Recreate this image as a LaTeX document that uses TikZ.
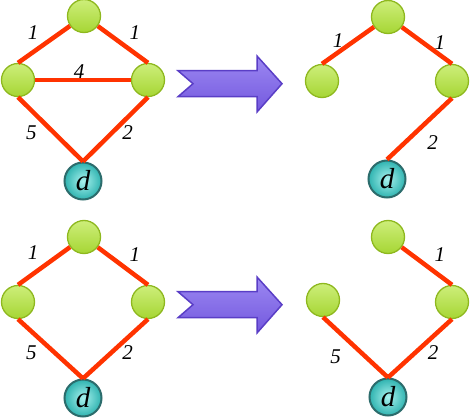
\documentclass[tikz,border=0pt]{standalone}
\usepackage{fontspec}
\setmainfont{Liberation Serif}
\usepackage{tikz}
\usetikzlibrary{shapes.geometric,arrows.meta,positioning,calc}
\definecolor{gtop}{HTML}{CDEE7A}
\definecolor{gbot}{HTML}{A6D634}
\definecolor{grim}{HTML}{8EB81E}
\definecolor{dinner}{HTML}{A8F2EE}
\definecolor{douter}{HTML}{2FB3B0}
\definecolor{drim}{HTML}{2C6C6C}
\definecolor{edgered}{HTML}{FF3300}
\definecolor{atop}{HTML}{9C88F2}
\definecolor{abot}{HTML}{7358DE}
\definecolor{arim}{HTML}{5A3EC6}

\begin{document}
\begin{tikzpicture}[
		x=1pt, y=-1pt,
		router/.style={circle, draw=grim, line width=1.3pt, minimum size=33pt, inner sep=0pt, top color=gtop, bottom color=gbot},
		dest/.style={circle, draw=drim, line width=2pt, minimum size=37pt, inner sep=0pt, inner color=dinner, outer color=douter, font=\fontsize{29}{29}\selectfont\itshape},
		link/.style={draw=edgered, line width=4.5pt},
		lbl/.style={font=\fontsize{21}{21}\selectfont\itshape, inner sep=0pt},
		bigarrow/.style={draw=arim, line width=1.5pt, top color=atop, bottom color=abot, line join=miter}
	]
		\useasboundingbox (0,0) rectangle (472,420);

		% full graph, top left
		\node[router] (ta) at (84,16) {};
		\node[router] (la) at (18,80) {};
		\node[router] (ra) at (148,80) {};
		\node[dest] (da) at (83,181) {d};

		% tree, top right
		\node[router] (tb) at (388,17) {};
		\node[router] (lb) at (322,81) {};
		\node[router] (rb) at (452,81) {};
		\node[dest] (db) at (387,179) {d};

		% graph without the 4 link, bottom left
		\node[router] (tc) at (84,237) {};
		\node[router] (lc) at (18,302) {};
		\node[router] (rc) at (148,302) {};
		\node[dest] (dc) at (83,398) {d};

		% tree, bottom right
		\node[router] (td) at (388,237) {};
		\node[router] (ld) at (323,300) {};
		\node[router] (rd) at (452,302) {};
		\node[dest] (dd) at (388,397) {d};

		\draw[link] (ta) -- node[lbl, xshift=-11pt, yshift=12pt] {1} (la.north);
		\draw[link] (ta) -- node[lbl, xshift=12pt, yshift=12pt] {1} (ra.north);
		\draw[link] (la) -- node[lbl, xshift=-4pt, yshift=8pt] {4} (ra);
		\draw[link] (la.south) -- node[lbl, xshift=-19pt, yshift=-3pt] {5} (da.north);
		\draw[link] (ra.south) -- node[lbl, xshift=12pt, yshift=-3pt] {2} (da.north);

		\draw[link] (tb) -- node[lbl, xshift=-10pt, yshift=5pt] {1} (lb.north);
		\draw[link] (tb) -- node[lbl, xshift=13pt, yshift=3pt] {1} (rb.north);
		\draw[link] (rb.south) -- node[lbl, xshift=13pt, yshift=-14pt] {2} (db.north);

		\draw[link] (tc) -- node[lbl, xshift=-11pt, yshift=13pt] {1} (lc.north);
		\draw[link] (tc) -- node[lbl, xshift=12pt, yshift=11pt] {1} (rc.north);
		\draw[link] (lc.south) -- node[lbl, xshift=-19pt, yshift=-4pt] {5} (dc.north);
		\draw[link] (rc.south) -- node[lbl, xshift=12pt, yshift=-4pt] {2} (dc.north);

		\draw[link] (td) -- node[lbl, xshift=13pt, yshift=11pt] {1} (rd.north);
		\draw[link] (ld.south) -- node[lbl, xshift=-20pt, yshift=-9pt] {5} (dd.north);
		\draw[link] (rd.south) -- node[lbl, xshift=13pt, yshift=-4pt] {2} (dd.north);

		% the two arrows
		\foreach \ay in {83.7,304.7}
			\path[bigarrow] (178,\ay-13) -- (257,\ay-13) -- (257,\ay-27.7) -- (282,\ay)
				-- (257,\ay+28.3) -- (257,\ay+13) -- (178,\ay+13) -- (193,\ay) -- cycle;
	\end{tikzpicture}
\end{document}
